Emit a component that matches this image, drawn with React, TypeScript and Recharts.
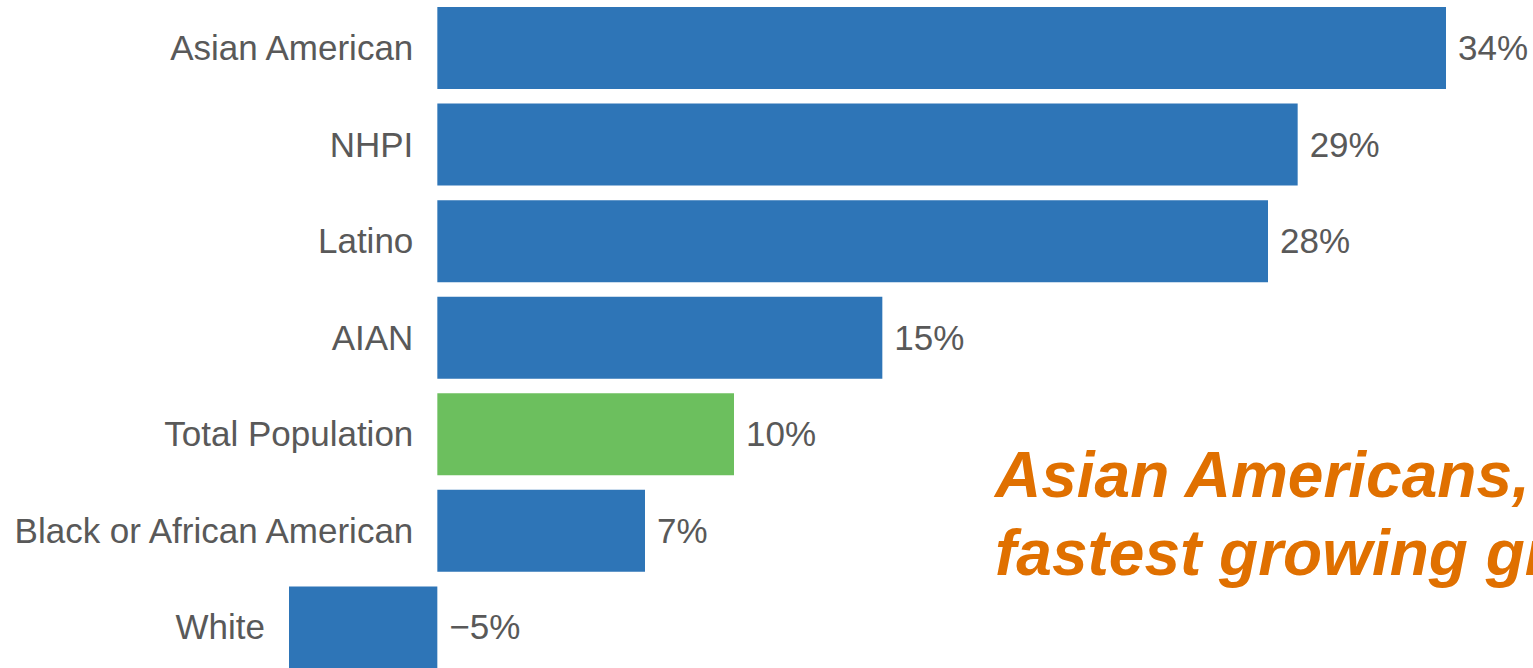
import { Bar, BarChart, Cell, LabelList, XAxis, YAxis } from "recharts";

// 인구 증가율 (%)
const groups = [
  "Asian American",
  "NHPI",
  "Latino",
  "AIAN",
  "Total Population",
  "Black or African American",
  "White",
];
const growth = [34, 29, 28, 15, 10, 7, -5];
const highlightGroup = "Total Population";
const calloutLines = ["Asian Americans,", "fastest growing group"];

const BLUE = "#2E75B7";
const GREEN = "#6CBF5E";
const TEXT = "#595959";
const ORANGE = "#E07000";
const FONT = "'Liberation Sans', Arial, sans-serif";

const data = groups.map((group, i) => ({ group, growth: growth[i] }));

function boxOf(props: any) {
  const vb = props.viewBox || {};
  const x = Number(props.x ?? vb.x);
  const y = Number(props.y ?? vb.y);
  const w = Number(props.width ?? vb.width);
  const h = Number(props.height ?? vb.height);
  return {
    left: Math.min(x, x + w),
    right: Math.max(x, x + w),
    neg: w < 0 || Number(props.value) < 0,
    cy: Math.min(y, y + h) + Math.abs(h) / 2,
  };
}

function GroupLabel(props: any) {
  const { left, cy } = boxOf(props);
  return (
    <text x={left - 24} y={cy + 12} textAnchor="end" fill={TEXT} fontSize={35} fontFamily={FONT}>
      {props.value}
    </text>
  );
}

function ValueLabel(props: any) {
  const { right, cy } = boxOf(props);
  return (
    <text x={right + 12} y={cy + 12} textAnchor="start" fill={TEXT} fontSize={35} fontFamily={FONT}>
      {`${props.value}%`.replace("-", "\u2212")}
    </text>
  );
}

export default function App() {
  return (
    <div
      style={{
        position: "absolute",
        left: 0,
        top: 0,
        width: 1533,
        height: 668,
        overflow: "hidden",
        background: "#fff",
      }}
    >
      <BarChart
        layout="vertical"
        width={1533}
        height={676}
        data={data}
        margin={{ top: 0, right: 87, bottom: 0, left: 289 }}
      >
        <XAxis type="number" domain={[-5, 34]} hide />
        <YAxis type="category" dataKey="group" hide />
        <Bar dataKey="growth" barSize={82} isAnimationActive={false}>
          {data.map((d) => (
            <Cell key={d.group} fill={d.group === highlightGroup ? GREEN : BLUE} />
          ))}
          <LabelList dataKey="group" content={GroupLabel} />
          <LabelList dataKey="growth" content={ValueLabel} />
        </Bar>
      </BarChart>
      <div
        style={{
          position: "absolute",
          left: 995,
          top: 436,
          fontFamily: FONT,
          fontWeight: "bold",
          fontStyle: "italic",
          fontSize: 64,
          lineHeight: "78px",
          color: ORANGE,
          whiteSpace: "nowrap",
        }}
      >
        {calloutLines.map((line) => (
          <div key={line}>{line}</div>
        ))}
      </div>
    </div>
  );
}
